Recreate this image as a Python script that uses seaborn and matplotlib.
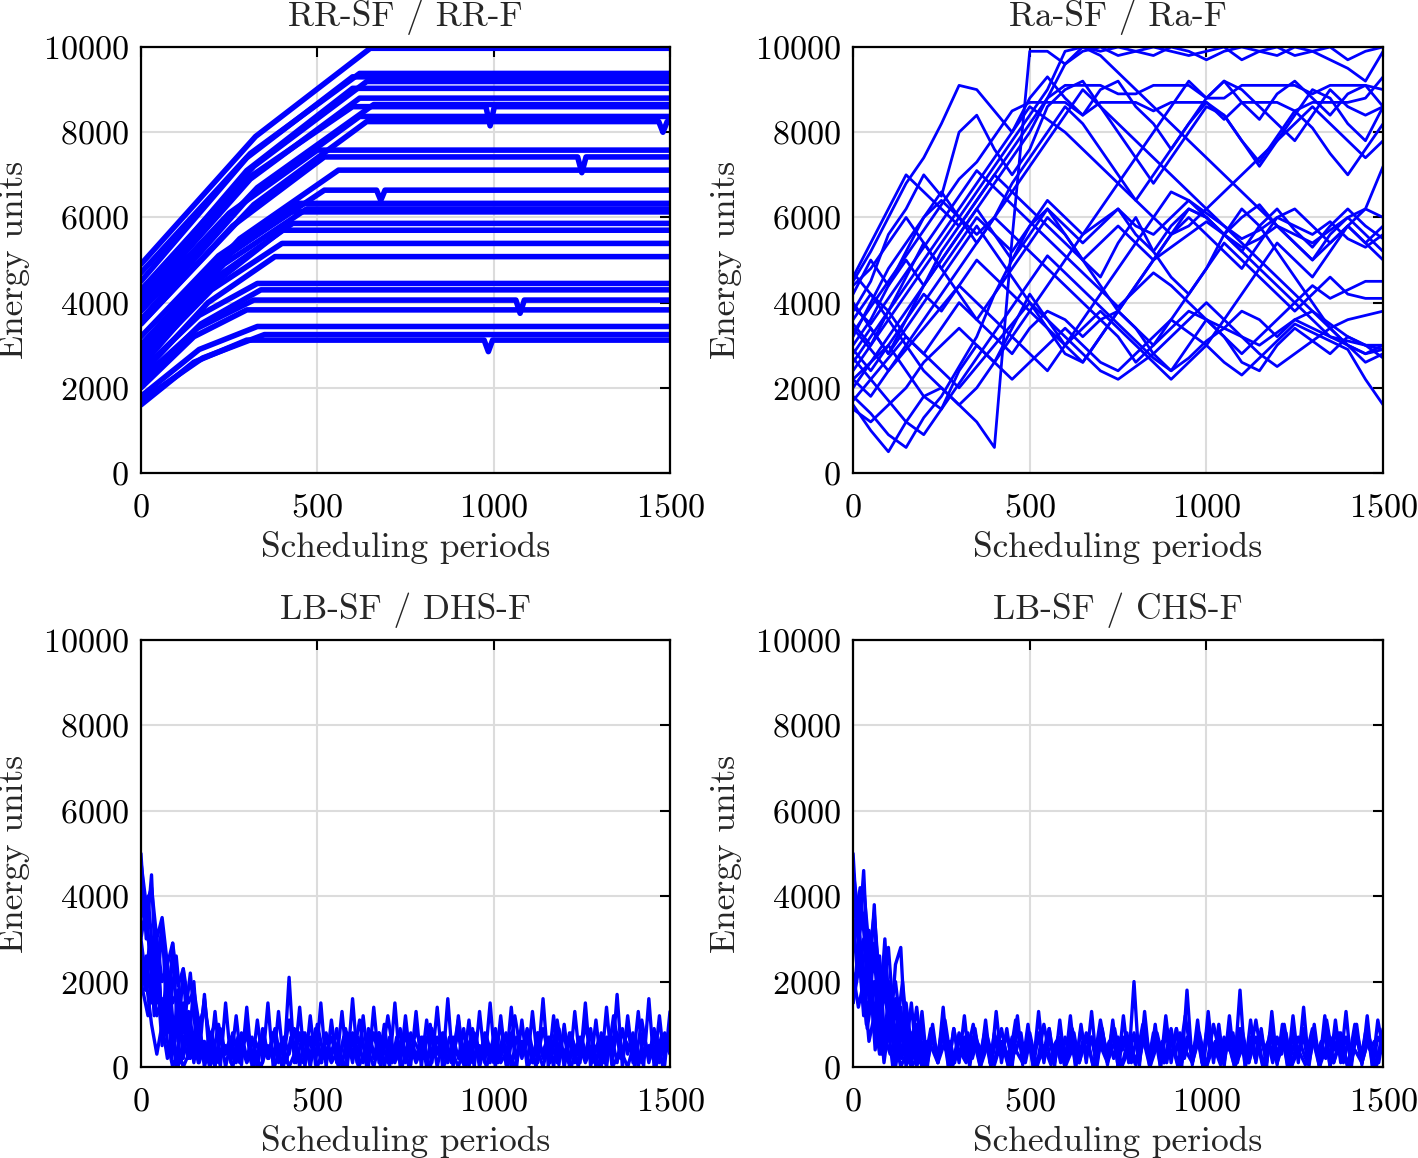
import numpy as np
import pandas as pd
import matplotlib
matplotlib.use("Agg")
import matplotlib.pyplot as plt
import seaborn as sns

# ---------------- RR-SF / RR-F : start, mid-ramp value, knee time, plateau level
rr_start = [4900, 4700, 4500, 4300, 4200, 4000, 3800, 4100, 3600, 3500, 3900, 3500, 3000, 2900,
            3200, 2800, 3000, 2700, 2500, 2600, 2300, 2400, 2100, 2200, 2000, 1800, 1600, 1700]
rr_mid = [7900, 7500, 7400, 7200, 7100, 6900, 6700, 6900, 6500, 6300, 6100, 5800, 5500, 5200,
          5100, 4900, 4900, 4600, 4400, 4300, 4000, 3700, 3500, 3400, 3200, 2900, 2600, 2700]
rr_knee = [650, 620, 600, 640, 600, 620, 660, 600, 620, 640, 500, 520, 560, 520,
           440, 470, 420, 430, 400, 400, 380, 330, 340, 320, 300, 330, 300, 350]
rr_level = [9970, 9380, 9300, 9190, 9030, 8800, 8650, 8600, 8370, 8250, 7580, 7420, 7110, 6640,
            6330, 6200, 6130, 5860, 5700, 5390, 5080, 4450, 4300, 4060, 3830, 3440, 3120, 3250]
# occasional dips on the plateaus
dip_line = [7, 26, 23, 11, 9, 13]
dip_t = [990, 985, 1075, 1250, 1480, 680]
dip_e = [8150, 2850, 3750, 7050, 8000, 6400]

# ---------------- Ra-SF / Ra-F : values every 50 periods
ra_runs = [
    [1800, 1400, 900, 600, 1300, 1800, 2500, 3200, 4200, 5000, 5800, 6200, 5600, 5000, 4600, 5400, 6000, 5200, 4600, 4200, 4800, 5600, 6200, 5800, 5200, 4600, 4000, 3400, 3000, 2600, 2800],
    [1600, 1000, 500, 1200, 1800, 1500, 2400, 3000, 2600, 3400, 4200, 3600, 3000, 2600, 3200, 3800, 3400, 2800, 2400, 3000, 3600, 3200, 2600, 2400, 3000, 3400, 3100, 2800, 3200, 3000, 2900],
    [2200, 2600, 3000, 2400, 1800, 2000, 1600, 1200, 600, 5500, 9900, 9900, 9600, 9900, 10000, 9800, 9900, 10000, 9900, 9800, 9900, 10000, 9700, 9900, 10000, 9800, 9900, 9700, 9500, 9200, 9900],
    [4500, 5200, 6000, 6800, 7400, 8200, 9100, 9000, 8500, 8000, 8800, 9300, 8800, 8400, 9000, 9200, 8600, 8200, 7600, 8200, 8800, 9200, 8700, 8300, 8900, 9200, 8800, 8400, 8900, 9100, 8600],
    [3800, 4500, 5600, 6200, 7000, 6500, 8000, 8400, 7600, 7000, 7600, 8600, 9000, 9200, 8600, 8000, 7400, 6800, 7400, 8000, 8600, 8400, 7800, 7200, 7800, 8400, 9000, 8800, 8200, 7800, 8600],
    [4200, 5000, 4400, 5200, 6000, 6600, 6000, 5400, 6000, 6800, 7400, 8000, 8600, 8200, 7600, 7000, 6400, 7000, 7600, 8200, 8700, 8400, 7800, 7300, 7900, 8500, 8100, 7500, 7000, 7600, 8200],
    [3000, 3600, 4400, 5000, 4400, 5200, 5800, 6400, 7000, 7600, 8200, 8800, 9100, 9100, 9100, 8900, 8900, 9100, 9100, 9100, 8800, 8800, 9100, 9100, 9100, 9100, 8900, 9100, 9100, 9100, 9000],
    [2800, 3400, 2800, 3600, 4400, 5000, 5600, 6200, 5600, 5000, 5600, 6200, 5800, 5400, 5800, 6200, 5600, 5200, 5800, 6200, 6000, 5600, 5200, 5800, 6200, 5700, 5300, 5800, 6200, 5800, 5500],
    [3500, 3000, 3800, 4600, 5400, 4800, 4200, 3600, 4200, 4800, 5400, 6000, 5600, 5000, 4400, 3800, 4400, 5000, 5600, 6000, 5600, 5200, 4800, 5400, 6000, 6200, 5800, 5400, 5800, 6200, 6000],
    [2600, 3200, 3800, 3200, 2800, 3400, 4000, 3600, 3200, 2800, 3400, 3800, 3600, 3200, 3600, 3800, 3400, 3000, 3400, 3800, 3600, 3400, 3800, 3600, 3200, 3600, 3800, 3500, 3200, 3000, 2700],
    [4000, 3400, 2800, 3400, 4000, 4600, 5200, 5800, 5200, 4600, 4000, 3400, 2800, 2600, 3200, 3800, 4400, 5000, 5600, 6200, 6000, 5600, 6000, 6300, 5800, 5400, 5000, 5600, 6000, 5600, 5200],
    [3200, 4000, 4800, 5400, 6000, 6400, 6000, 5600, 6000, 5600, 5200, 4800, 4400, 4000, 3600, 3200, 2600, 3000, 3600, 4200, 4800, 5400, 5000, 4600, 4200, 3800, 4200, 4600, 4200, 4100, 4100],
    [2000, 2600, 3200, 3800, 4400, 5000, 5600, 6200, 6800, 7400, 8000, 8800, 9600, 10000, 9900, 10000, 9900, 9800, 10000, 9900, 9700, 9900, 10000, 9900, 9800, 10000, 9900, 10000, 9700, 9900, 10000],
    [4700, 4200, 3600, 3000, 2400, 2000, 1600, 2000, 2600, 3200, 2800, 2400, 3000, 3600, 4200, 4800, 5400, 6000, 6600, 6400, 6000, 5600, 5200, 4800, 4400, 4000, 3600, 3200, 3000, 2800, 3000],
    [1500, 1200, 1600, 2000, 2600, 3000, 3400, 3000, 2600, 2200, 2600, 3000, 3400, 3000, 2600, 2400, 2800, 3200, 3600, 3300, 3000, 2600, 2300, 2700, 3100, 3500, 3300, 3100, 2900, 2200, 1600],
    [3300, 3900, 4500, 5100, 5700, 6300, 6900, 7300, 7900, 8500, 8700, 8700, 8700, 8400, 8700, 8700, 8700, 8500, 8700, 8700, 8700, 8300, 8700, 8700, 8700, 8500, 8700, 8700, 8700, 8800, 9300],
    [2900, 2400, 3000, 3600, 4200, 3800, 4400, 5000, 4600, 4200, 3800, 3400, 3000, 3400, 3800, 3400, 3000, 2600, 2200, 2600, 3000, 3600, 4200, 4800, 5400, 5000, 4600, 5200, 5800, 5400, 5800],
    [3600, 4200, 3800, 4400, 5000, 5600, 6200, 6800, 7400, 8000, 8600, 8300, 8000, 7600, 7200, 6800, 6400, 6000, 5600, 5800, 6200, 6600, 7000, 7400, 7800, 8200, 8600, 8200, 7800, 7400, 7800],
    [2200, 1800, 2400, 3000, 3600, 4200, 4800, 5400, 6000, 6600, 7200, 7800, 8400, 9000, 8600, 8200, 7800, 7400, 7000, 6600, 6200, 5800, 5400, 5000, 4600, 4200, 3800, 3400, 3000, 2800, 2900],
    [4400, 4800, 5400, 6000, 5400, 4800, 5400, 6000, 5600, 5200, 5800, 6400, 6000, 5600, 5900, 6200, 5800, 5600, 6000, 6400, 6100, 5800, 5500, 5700, 6000, 5800, 5600, 5900, 5500, 5300, 5600],
    [2700, 2200, 1700, 1200, 900, 1500, 2100, 2700, 3300, 3900, 4500, 5100, 4700, 4300, 3900, 3500, 3100, 2700, 2400, 2700, 3100, 3400, 3200, 3000, 3300, 3600, 3400, 3200, 3100, 3000, 3000],
    [3900, 3500, 4100, 4700, 5300, 5900, 6500, 7100, 6700, 6300, 5900, 5500, 5100, 4700, 4300, 3900, 4300, 4700, 4400, 4000, 3600, 3200, 2800, 3200, 3600, 4000, 4400, 4100, 4300, 4500, 4500],
    [3400, 2900, 2400, 2900, 3400, 3900, 4400, 4000, 3600, 3200, 3800, 4400, 5000, 5600, 6200, 6800, 7400, 8000, 8600, 9200, 8800, 9200, 9000, 8600, 8200, 7800, 8400, 9000, 8600, 8400, 8600],
    [2400, 3000, 3600, 4200, 4800, 5400, 6000, 6600, 7200, 7800, 8400, 9000, 9900, 10000, 9800, 9400, 9000, 8600, 8200, 7800, 7400, 7000, 6600, 6200, 5800, 5400, 5000, 5400, 5800, 5400, 5000],
    [1700, 2200, 2700, 3200, 2800, 2400, 2000, 2500, 3000, 3500, 4000, 3600, 3200, 2800, 2400, 2200, 2500, 2800, 3200, 3600, 4000, 3600, 3200, 2800, 2500, 2800, 3100, 3400, 3600, 3700, 3800],
    [4600, 5400, 6200, 7000, 6600, 6200, 5800, 6400, 7000, 6600, 6200, 5800, 5400, 5000, 5400, 5800, 5400, 5000, 5300, 5600, 5900, 5600, 5300, 5500, 5800, 5600, 5400, 5700, 6000, 6200, 7200],
]

# ---------------- LB-SF / DHS-F
dhs_a = [5000, 3000, 4500, 1500, 3400, 800, 2900, 600, 2300, 300,
         2000, 200, 1700, 100, 1300, 0, 1500, 100, 1200, 50,
         1400, 0, 1100, 100, 1500, 0, 1300, 50, 2100, 100,
         1400, 0, 1200, 50, 1500, 0, 1100, 100, 1300, 0,
         1600, 50, 1200, 0, 1400, 100, 1000, 0, 1500, 0,
         1200, 50, 1300, 0, 1100, 100, 1400, 0, 1600, 0,
         1200, 50, 1100, 0, 1300, 100, 1500, 0, 1200, 50,
         1400, 0, 1100, 0, 1300, 100, 1600, 0, 1200, 50,
         1000, 0, 1300, 100, 1500, 0, 1100, 0, 1400, 50,
         1700, 0, 1200, 100, 1300, 0, 1600, 0, 1200, 50,
         1300]
dhs_b = [3500, 4000, 2000, 3300, 1200, 2600, 800, 2200, 300, 1600,
         100, 1000, 0, 800, 100, 1000, 0, 700, 200, 900,
         0, 1100, 100, 800, 0, 1000, 200, 700, 0, 900,
         100, 1100, 0, 800, 0, 1200, 100, 700, 0, 900,
         200, 1000, 0, 800, 100, 1100, 0, 900, 0, 700,
         100, 1000, 0, 1200, 200, 800, 0, 900, 100, 1100,
         0, 800, 0, 1000, 100, 700, 0, 1200, 200, 900,
         0, 1100, 100, 800, 0, 1000]
dhs_c = [2000, 1200, 2800, 500, 2200, 0, 1500, 200, 1200, 0,
         700, 100, 500, 0, 600, 100, 400, 0, 500, 50,
         600, 0, 400, 100, 700, 0, 500, 100, 400, 0,
         600, 50, 500, 0, 700, 100, 400, 0, 600, 100,
         500, 0, 700, 50, 400, 0, 600, 100, 500, 0,
         700, 100, 400, 0, 600, 50, 500, 0, 700, 100,
         400, 0, 600, 100, 500, 0, 700, 50, 400, 0,
         600, 100, 500, 0, 700, 300]
dhs_d = [3000, 3800, 2000, 3000, 1000, 2400, 400, 1800, 200, 1200,
         100, 900, 200, 800, 0, 900, 300, 700, 100, 800,
         200, 700, 0, 900, 200, 800, 100, 700, 300, 900,
         0, 800, 200, 900, 100, 700, 200, 900, 0, 800,
         300, 700, 100, 900, 200, 800, 0, 700, 300, 900,
         100, 800, 200, 700, 0, 900, 300, 800, 100, 700,
         200, 900, 0, 800, 300, 700, 100, 900, 200, 800,
         0, 700, 300, 900, 100, 800, 200, 700, 0, 900,
         200, 800, 100, 700, 300, 900, 0, 800, 200, 700,
         100, 900, 300, 800, 0, 700, 200, 900, 100, 800,
         400]
dhs_e = [2600, 1800, 3000, 1200, 2400, 600, 1600, 200, 1000, 100, 800,
         300, 700, 100, 600, 400, 800, 200, 700, 300, 600,
         200, 700, 400, 800, 100, 600, 300, 700, 200, 800,
         400, 600, 100, 700, 300, 800, 200, 600, 400, 700,
         100, 800, 300, 600, 200, 700, 400, 800, 100, 600,
         300, 700, 200, 800, 400, 600, 100, 700, 300, 800,
         200, 600, 400, 700, 100, 800, 300, 600, 200, 700,
         400, 800, 100, 600, 300, 700, 200, 800, 400, 600,
         100, 700, 300, 800, 200, 600, 400, 700, 100, 800,
         300, 600, 200, 700, 400, 800, 100, 600, 300, 700,
         200, 800, 400, 600, 100, 700, 300, 800, 200, 600,
         400, 700, 100, 800, 300, 600, 200, 700, 400, 800]
# first 210 periods, every 15
dhs_early = [
    [4000, 3200, 2600, 3000, 2000, 2400, 1500, 1800, 1000, 1300, 600, 900, 300, 500, 100],
    [2500, 1800, 2200, 1200, 1600, 600, 0, 400, 0, 300, 800, 200, 600, 100, 400],
    [3000, 2000, 1000, 300, 1000, 200, 900, 0, 600, 200, 800, 100, 500, 0, 300],
    [1800, 2600, 1500, 2200, 1000, 1800, 600, 1400, 300, 1100, 200, 900, 100, 600, 0],
    [4800, 3800, 4200, 3000, 3500, 2400, 2900, 1900, 2300, 1500, 1800, 1000, 1400, 700, 1000],
]

# ---------------- LB-SF / CHS-F
chs_a = [5000, 2800, 4600, 1800, 3800, 1200, 3000, 700, 2400, 2800,
         400, 1500, 100, 1300, 0, 1000, 100, 1400, 0, 900,
         100, 1200, 0, 900, 50, 1100, 0, 1300, 100, 900,
         0, 1200, 50, 1000, 0, 1300, 100, 900, 0, 1100,
         50, 1200, 0, 1000, 100, 1300, 0, 900, 50, 1100,
         0, 1200, 100, 2000, 0, 1300, 50, 1000, 0, 1200,
         100, 900, 0, 1800, 50, 1100, 0, 1300, 100, 1000,
         0, 1200, 50, 1800, 0, 1100, 100, 900, 0, 1300,
         50, 1000, 0, 1200, 100, 1400, 0, 1000, 50, 1200,
         0, 1100, 100, 1300, 0, 1000, 50, 1200, 0, 1100,
         400]
chs_b = [3000, 4200, 2200, 3600, 1400, 2800, 600, 2000, 200, 1400,
         0, 900, 100, 1100, 0, 800, 200, 1000, 0, 700,
         100, 900, 0, 1100, 200, 800, 0, 1000, 100, 700,
         0, 900, 100, 800, 0, 1100, 200, 900, 0, 700,
         100, 1000, 0, 800, 100, 900, 0, 1200, 100, 800,
         0, 1000, 200, 700, 0, 900, 100, 1100, 0, 800,
         100, 1000, 0, 700, 200, 900, 0, 1100, 100, 800,
         0, 1000, 100, 700, 0, 900]
chs_c = [1500, 2500, 900, 2000, 300, 1500, 0, 1000, 100, 700,
         0, 500, 100, 600, 0, 400, 100, 700, 0, 500,
         50, 600, 0, 400, 100, 700, 0, 500, 50, 600,
         0, 400, 100, 700, 0, 500, 100, 600, 0, 400,
         50, 700, 0, 500, 100, 600, 0, 400, 100, 700,
         0, 500, 50, 600, 0, 400, 100, 700, 0, 500,
         100, 600, 0, 400, 50, 700, 0, 500, 100, 600,
         0, 400, 100, 700, 0, 600]
chs_d = [2800, 3600, 1800, 3200, 900, 2600, 500, 2000, 300, 1400,
         0, 800, 200, 900, 100, 700, 300, 800, 0, 900,
         200, 700, 100, 800, 300, 900, 0, 700, 200, 800,
         100, 900, 300, 700, 0, 800, 200, 900, 100, 700,
         300, 800, 0, 900, 200, 700, 100, 800, 300, 900,
         0, 700, 200, 800, 100, 900, 300, 700, 0, 800,
         200, 900, 100, 700, 300, 800, 0, 900, 200, 700,
         100, 800, 300, 900, 0, 700, 200, 800, 100, 900,
         300, 700, 0, 800, 200, 900, 100, 700, 300, 800,
         0, 900, 200, 700, 100, 800, 300, 900, 0, 700,
         500]
chs_e = [3400, 2200, 2800, 1000, 2000, 400, 1400, 100, 900, 0, 600,
         200, 700, 400, 800, 100, 600, 300, 700, 200, 800,
         400, 600, 100, 700, 300, 800, 200, 600, 400, 700,
         100, 800, 300, 600, 200, 700, 400, 800, 100, 600,
         300, 700, 200, 800, 400, 600, 100, 700, 300, 800,
         200, 600, 400, 700, 100, 800, 300, 600, 200, 700,
         400, 800, 100, 600, 300, 700, 200, 800, 400, 600,
         100, 700, 300, 800, 200, 600, 400, 700, 100, 800,
         300, 600, 200, 700, 400, 800, 100, 600, 300, 700,
         200, 800, 400, 600, 100, 700, 300, 800, 200, 600,
         400, 700, 100, 800, 300, 600, 200, 700, 400, 800,
         100, 600, 300, 700, 200, 800, 400, 600, 100, 700]
chs_early = [
    [4600, 3600, 4200, 2800, 3400, 2000, 2600, 1400, 2000, 900, 1500, 500, 1000, 200, 600],
    [2200, 1400, 2000, 600, 1200, 300, 700, 300, 600, 0, 300, 0, 200, 100, 300],
    [3200, 2400, 3000, 1600, 2600, 1000, 1800, 600, 1400, 300, 900, 100, 600, 0, 400],
    [1500, 2800, 1200, 2300, 800, 1900, 500, 1500, 200, 1000, 100, 700, 0, 500, 100],
    [4000, 3000, 3600, 2200, 2900, 1500, 2300, 900, 1600, 600, 1100, 300, 800, 100, 500],
]

titles = ["RR-SF / RR-F", "Ra-SF / Ra-F", "LB-SF / DHS-F", "LB-SF / CHS-F"]
x_ticks = [0, 500, 1000, 1500]
y_ticks = [0, 2000, 4000, 6000, 8000, 10000]


def sampled(runs, t_end=1500):
    rows = []
    for k, vals in enumerate(runs):
        t = np.linspace(0, t_end, len(vals))
        rows.append(pd.DataFrame({"t": t, "energy": vals, "run": k}))
    return pd.concat(rows, ignore_index=True)


# RR runs from their read-off knots
rr_rows = []
for k in range(len(rr_start)):
    ts = [0, rr_knee[k] / 2, rr_knee[k], 1500]
    es = [rr_start[k], rr_mid[k], rr_level[k], rr_level[k]]
    for j, line in enumerate(dip_line):
        if line == k:
            ts += [dip_t[j] - 12, dip_t[j], dip_t[j] + 12]
            es += [rr_level[k], dip_e[j], rr_level[k]]
    order = np.argsort(ts)
    rr_rows.append(pd.DataFrame({"t": np.array(ts)[order], "energy": np.array(es)[order], "run": k}))
rr_df = pd.concat(rr_rows, ignore_index=True)

ra_df = sampled(ra_runs)
dhs_df = pd.concat([sampled([dhs_a, dhs_b, dhs_c, dhs_d, dhs_e]),
                    sampled(dhs_early, t_end=210).assign(run=lambda d: d.run + 10)], ignore_index=True)
chs_df = pd.concat([sampled([chs_a, chs_b, chs_c, chs_d, chs_e]),
                    sampled(chs_early, t_end=210).assign(run=lambda d: d.run + 10)], ignore_index=True)

sns.set_theme(style="white")
plt.rcParams["font.family"] = ["cmr10", "DejaVu Sans"]
plt.rcParams["axes.formatter.use_mathtext"] = True
plt.rcParams["mathtext.fontset"] = "cm"

fig = plt.figure(figsize=(14.18, 11.58), dpi=100)
positions = [
    [0.0994, 0.5915, 0.3731, 0.3679],
    [0.6016, 0.5915, 0.3738, 0.3679],
    [0.0994, 0.0786, 0.3731, 0.3687],
    [0.6016, 0.0786, 0.3738, 0.3687],
]
frames = [rr_df, ra_df, dhs_df, chs_df]
widths = [4.0, 2.0, 2.4, 2.4]

for pos, df, title, lw in zip(positions, frames, titles, widths):
    ax = fig.add_axes(pos)
    sns.lineplot(data=df, x="t", y="energy", units="run", estimator=None,
                 color="#0000ff", lw=lw, ax=ax, legend=False, sort=False)
    ax.set_xlim(0, 1500)
    ax.set_ylim(0, 10000)
    ax.set_xticks(x_ticks)
    ax.set_yticks(y_ticks)
    ax.grid(True, color="#dcdcdc", lw=1.5)
    ax.set_axisbelow(True)
    ax.tick_params(direction="in", length=7, width=1.5, top=True, right=True,
                   labelsize=24.5, colors="black")
    ax.tick_params(axis="x", pad=15)
    ax.tick_params(axis="y", pad=9)
    for sp in ax.spines.values():
        sp.set_color("black")
        sp.set_linewidth(1.6)
    ax.set_title(title, fontsize=25.5, pad=15)
    ax.set_xlabel("Scheduling periods", fontsize=25.5, labelpad=6)
    ax.set_ylabel("Energy units", fontsize=25.5, labelpad=9)

fig.savefig("out.png", dpi=100)
